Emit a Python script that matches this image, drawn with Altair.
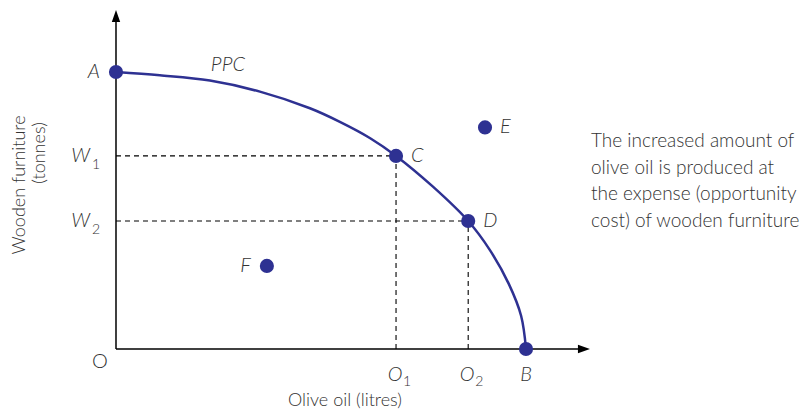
import altair as alt
import pandas as pd

# ---- data ----
# Production possibility curve: olive oil (x) vs wooden furniture (y)
curve_oil = [0.0, 1.07, 2.29, 3.51, 4.73, 5.46, 6.20, 6.83, 7.73, 8.59, 9.12, 9.58, 9.88, 10.0]
curve_wood = [10.0, 9.88, 9.69, 9.29, 8.69, 8.20, 7.61, 6.97, 5.86, 4.62, 3.57, 2.35, 1.20, 0.0]

point_names = ["A", "B", "C", "D", "E", "F"]
point_oil = [0.0, 10.0, 6.83, 8.59, 9.0, 3.68]
point_wood = [10.0, 0.0, 6.97, 4.62, 8.0, 3.0]

guide_points = ["C", "D"]          # points with dashed guides to the axes
guide_subs = ["1", "2"]            # O1/W1 and O2/W2 subscripts

x_title = "Olive oil (litres)"
y_title_lines = ["Wooden furniture", "(tonnes)"]
note_lines = [
    "The increased amount of",
    "olive oil is produced at",
    "the expense (opportunity",
    "cost) of wooden furniture",
]

# ---- frames ----
pts = pd.DataFrame({"name": point_names, "oil": point_oil, "wood": point_wood})
curve = pd.DataFrame({"oil": curve_oil, "wood": curve_wood, "ord": list(range(len(curve_oil)))})
guides = pts[pts["name"].isin(guide_points)].copy()
guides["sub"] = guide_subs

# ---- styling ----
BLUE = "#2e3192"
INK = "#333333"
FONT = "Lato"
FW = 300
X_END = 11.56
Y_END = 12.24
W, H = 793, 402

sx = alt.Scale(domain=[-2.634, 16.707], nice=False, zero=False)
sy = alt.Scale(domain=[-2.202, 12.310], nice=False, zero=False)


def X(f):
    return alt.X(f, type="quantitative", scale=sx, axis=None)


def Y(f):
    return alt.Y(f, type="quantitative", scale=sy, axis=None)


ARROW = "M0,0L0.7,2L-0.7,2Z"

# axes
axes_df = pd.DataFrame({"x0": [0.0, 0.0], "y0": [0.0, 0.0], "x1": [X_END - 0.2, 0.0], "y1": [0.0, Y_END - 0.3]})
axes = alt.Chart(axes_df).mark_rule(color="black", strokeWidth=1.5).encode(
    x=X("x0"), y=Y("y0"), x2="x1", y2="y1"
)
heads_df = pd.DataFrame({"x": [X_END, 0.0], "y": [0.0, Y_END], "ang": [90, 0]})
heads = alt.Chart(heads_df).mark_point(
    shape=ARROW, filled=True, size=144, color="black", opacity=1, strokeWidth=0
).encode(x=X("x"), y=Y("y"), angle=alt.Angle("ang:Q", scale=None))

# dashed guides
dash = dict(color="black", strokeWidth=1.1, strokeDash=[5, 4])
hguide = alt.Chart(guides).transform_calculate(zero="0").mark_rule(**dash).encode(
    x=X("zero"), x2="oil", y=Y("wood")
)
vguide = alt.Chart(guides).transform_calculate(zero="0").mark_rule(**dash).encode(
    x=X("oil"), y=Y("zero"), y2="wood"
)

# curve and points
ppc = alt.Chart(curve).mark_line(color=BLUE, strokeWidth=2.5, interpolate="catmull-rom").encode(
    x=X("oil"), y=Y("wood"), order="ord:Q"
)
dots = alt.Chart(pts).mark_circle(size=200, color=BLUE, opacity=1).encode(x=X("oil"), y=Y("wood"))

lab = dict(font=FONT, fontSize=20, fontWeight=FW, fontStyle="italic", color=INK, baseline="middle")
left_labels = alt.Chart(pts[pts["name"].isin(["A", "F"])]).mark_text(align="right", dx=-16, **lab).encode(
    x=X("oil"), y=Y("wood"), text="name"
)
right_labels = alt.Chart(pts[pts["name"].isin(["C", "D", "E"])]).mark_text(align="left", dx=15, **lab).encode(
    x=X("oil"), y=Y("wood"), text="name"
)
b_label = alt.Chart(pts[pts["name"] == "B"]).mark_text(align="center", dy=26, **lab).encode(
    x=X("oil"), y=Y("wood"), text="name"
)

# O1, O2 on the x axis
o_main = alt.Chart(guides).transform_calculate(zero="0", t="'O'").mark_text(align="center", dx=-1, dy=26, **lab).encode(
    x=X("oil"), y=Y("zero"), text="t:N"
)
sub = dict(font=FONT, fontSize=14, fontWeight=FW, color=INK, baseline="middle")
o_sub = alt.Chart(guides).transform_calculate(zero="0").mark_text(align="left", dx=7, dy=33, **sub).encode(
    x=X("oil"), y=Y("zero"), text="sub:N"
)
# W1, W2 on the y axis
w_main = alt.Chart(guides).transform_calculate(zero="0", t="'W'").mark_text(align="right", dx=-26, dy=0, **lab).encode(
    x=X("zero"), y=Y("wood"), text="t:N"
)
w_sub = alt.Chart(guides).transform_calculate(zero="0").mark_text(align="left", dx=-24, dy=9, **sub).encode(
    x=X("zero"), y=Y("wood"), text="sub:N"
)
# origin
origin = alt.Chart(pd.DataFrame({"x": [0.0], "y": [0.0], "t": ["O"]})).mark_text(
    font=FONT, fontSize=20, fontWeight=FW, color=INK, align="center", baseline="middle", dx=-16, dy=13
).encode(x=X("x"), y=Y("y"), text="t")

ppc_label = alt.Chart(pd.DataFrame({"x": [2.73], "y": [10.25], "t": ["PPC"]})).mark_text(**lab).encode(
    x=X("x"), y=Y("y"), text="t"
)

one = pd.DataFrame({"k": [0]})
ttl = dict(font=FONT, fontSize=18, fontWeight=FW, color=INK, align="center", baseline="middle")
xt = alt.Chart(one).mark_text(**ttl).encode(
    x=alt.value(337), y=alt.value(393), text=alt.value(x_title)
)
yt1 = alt.Chart(one).mark_text(angle=270, **ttl).encode(
    x=alt.value(12), y=alt.value(177), text=alt.value(y_title_lines[0])
)
yt2 = alt.Chart(one).mark_text(angle=270, **ttl).encode(
    x=alt.value(32), y=alt.value(145), text=alt.value(y_title_lines[1])
)
note = alt.Chart(one).mark_text(
    font=FONT, fontSize=19, fontWeight=FW, color=INK, align="left", baseline="alphabetic",
    lineBreak="\n", lineHeight=26.5
).encode(x=alt.value(583), y=alt.value(139), text=alt.value("\n".join(note_lines)))

chart = alt.layer(
    hguide, vguide, axes, heads, ppc, dots,
    left_labels, right_labels, b_label, o_main, o_sub, w_main, w_sub, origin, ppc_label,
    xt, yt1, yt2, note,
).properties(
    width=W, height=H, padding=0, autosize=alt.AutoSizeParams(type="none")
).configure_view(stroke=None)

chart.save("out.html", embed_options={"renderer": "svg", "actions": False})
